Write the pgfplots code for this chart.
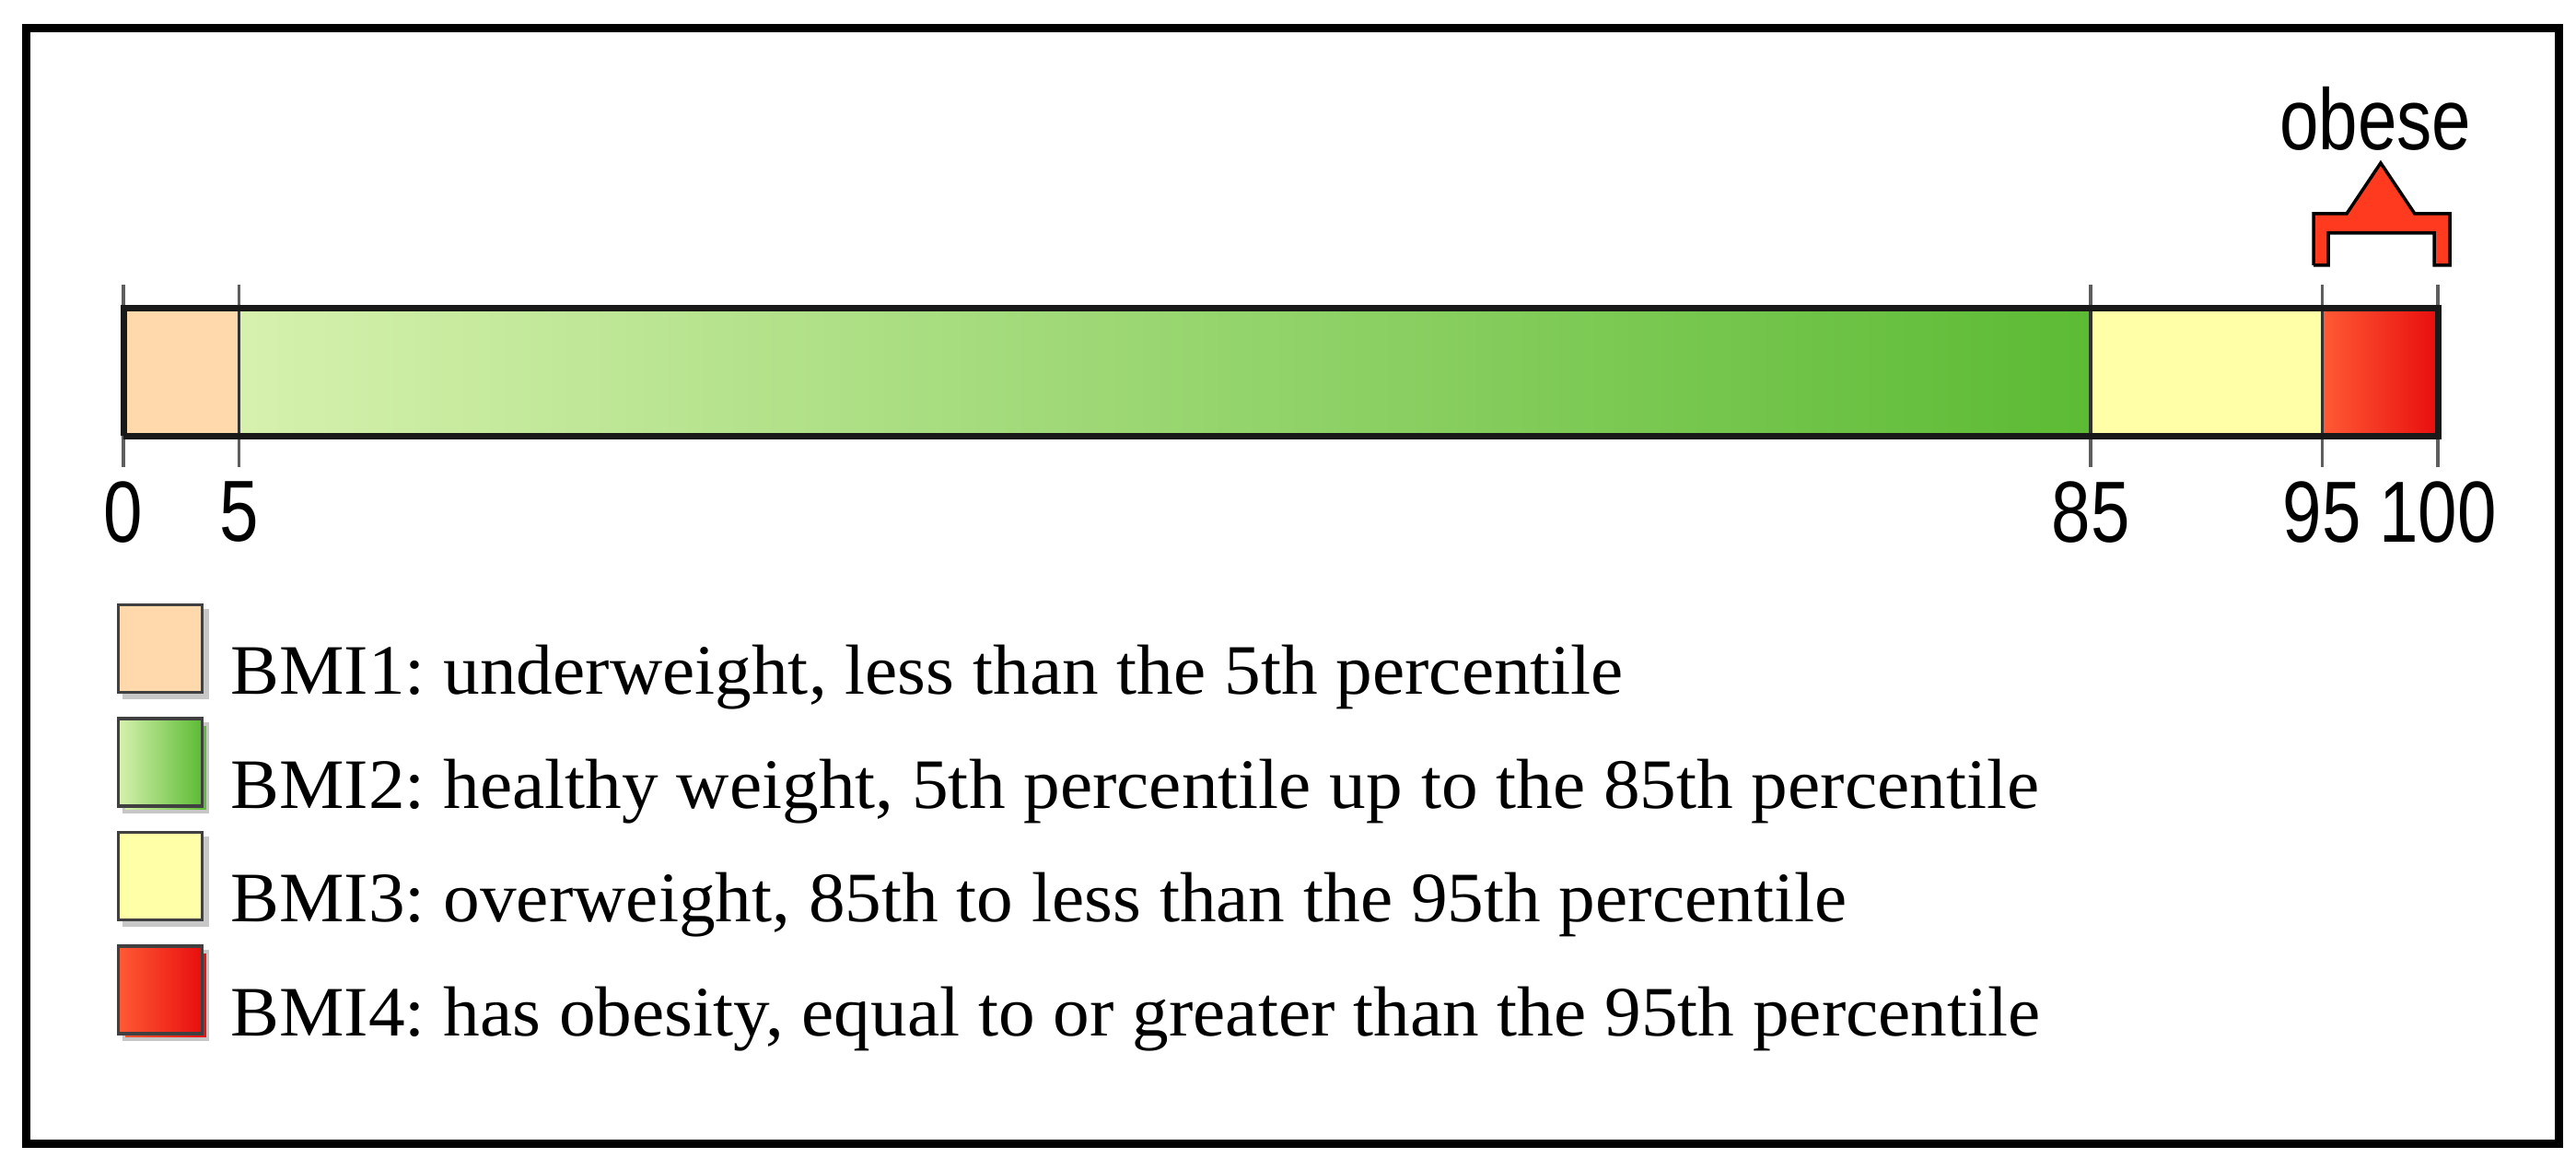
\documentclass[border=0pt]{standalone}
\usepackage{pgfplots}
\pgfplotsset{compat=1.18}
\usepackage{fontspec}
\setmainfont{Liberation Serif}
\newfontfamily\legendfont[FakeStretch=1.03]{Liberation Serif}
\newfontfamily\numfont[FakeStretch=0.81]{Liberation Sans}

\definecolor{peach}{HTML}{FFD9AC}
\definecolor{greenL}{HTML}{D6F1AE}
\definecolor{greenR}{HTML}{5CBB34}
\definecolor{yell}{HTML}{FFFFA8}
\definecolor{redL}{HTML}{FF5A35}
\definecolor{redR}{HTML}{E80E0E}
\definecolor{obred}{HTML}{FF3A1E}
\definecolor{tickgray}{HTML}{5E5E5E}

\begin{document}
\frenchspacing
\begin{tikzpicture}
% page and outer frame
\fill[white] (0cm,0cm) rectangle (27.97cm,12.69cm);
\draw[line width=0.09cm] (0.29cm,0.275cm) rectangle (27.78cm,12.38cm);

\begin{axis}[
    at={(1.34cm,7.62cm)}, anchor=south west,
    scale only axis,
    width=25.13cm, height=1.98cm,
    xmin=0, xmax=100,
    ymin=-0.246, ymax=1.188,
    axis line style={draw=none},
    ytick=\empty,
    xtick={0,5,85,95,100},
    major tick length=0pt,
    xmajorgrids,
    grid style={tickgray, line width=0.035cm},
    clip=false,
    /pgf/number format/assume math mode=true,
    xticklabel style={font=\numfont\fontsize{26.8}{30}\selectfont, inner sep=0pt, anchor=north, yshift=-0.15cm},
    legend style={at={(-0.0028,-0.747)}, anchor=north west, draw=none, fill=none,
        inner sep=0pt, outer sep=0pt, row sep=0.19cm, column sep=0.23cm,
        font=\legendfont\fontsize{21.9}{26}\selectfont\frenchspacing,
        cells={anchor=base west}, nodes={inner sep=0pt, text depth=0pt}},
    legend image code/.code={
        \fill[black!22] (0.06cm,-0.04cm) rectangle (0.97cm,0.91cm);
        \draw[#1, draw=black!75, line width=0.035cm] (0cm,0.02cm) rectangle (0.91cm,0.97cm);
    },
]

% percentile bands
\addplot[fill=peach, draw=black!80, line width=0.035cm]
coordinates {(0,0) (0,1) (5,1) (5,0) (0,0)};
\addlegendentry{BMI1: underweight, less than the 5th percentile}

\addplot[left color=greenL, right color=greenR, draw=black!80, line width=0.035cm]
coordinates {(5,0) (5,1) (85,1) (85,0) (5,0)};
\addlegendentry{BMI2: healthy weight, 5th percentile up to the 85th percentile}

\addplot[fill=yell, draw=black!80, line width=0.035cm]
coordinates {(85,0) (85,1) (95,1) (95,0) (85,0)};
\addlegendentry{BMI3: overweight, 85th to less than the 95th percentile}

\addplot[left color=redL, right color=redR, draw=black!80, line width=0.035cm]
coordinates {(95,0) (95,1) (100,1) (100,0) (95,0)};
\addlegendentry{BMI4: has obesity, equal to or greater than the 95th percentile}

% bar outline
\addplot[draw=black!90, line width=0.07cm, line cap=square, forget plot]
coordinates {(0,0) (0,1) (100,1) (100,0) (0,0)};

% obese bracket
\addplot[fill=obred, draw=black, line width=0.035cm, line join=miter, forget plot]
coordinates {(94.63,1.341) (94.63,1.746) (96.06,1.746) (97.53,2.145) (99.0,1.746)
 (100.52,1.746) (100.52,1.341) (99.84,1.341) (99.84,1.594) (95.27,1.594)
 (95.27,1.341) (94.63,1.341)};

\node[font=\numfont\fontsize{26.8}{30}\selectfont, anchor=base, inner sep=0pt]
    at (axis cs:97.3,2.246) {obese};

\end{axis}
\end{tikzpicture}
\end{document}
